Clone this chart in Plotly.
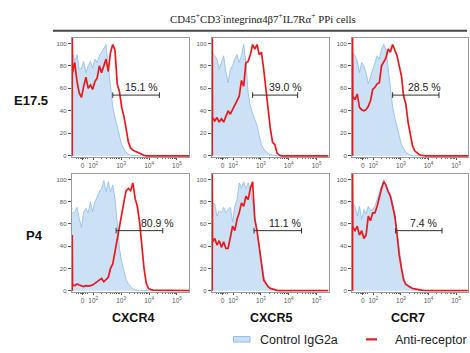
import numpy as np
import plotly.graph_objects as go

# ---------------- data ----------------
row_labels = ["E17.5", "P4"]
markers = ["CXCR4", "CXCR5", "CCR7"]
pct_labels = ["15.1 %", "39.0 %", "28.5 %", "80.9 %", "11.1 %", "7.4 %"]

# histogram bin centres in display (biexponential) units: 2 = 10^2, 3 = 10^3 ...
bins = [1.26, 1.34, 1.42, 1.50, 1.58, 1.66, 1.74, 1.82, 1.90, 1.98, 2.06, 2.14,
        2.22, 2.30, 2.38, 2.46, 2.54, 2.62, 2.70, 2.78, 2.86, 2.94, 3.02, 3.10,
        3.18, 3.26, 3.34, 3.42, 3.50, 3.58, 3.66, 3.74, 3.82, 3.90, 3.98, 4.06, 4.14]

e175_cxcr4_ctrl = [92, 84, 90, 77, 78, 84, 74, 80, 84, 78, 86, 83, 89, 92, 96, 99, 80, 62, 44, 34,
                   27, 18, 10, 6, 3, 1.5, 0.5, 0.3, 0, 0, 0, 0, 0, 0, 0, 0, 0]
e175_cxcr4_anti = [74, 83, 66, 56, 52, 62, 70, 60, 63, 59, 66, 69, 80, 74, 80, 86, 75, 92, 99, 94,
                   64, 57, 43, 35, 24, 12, 7, 5, 4, 3, 2, 1, 0.5, 0, 0, 0, 0]
e175_cxcr5_ctrl = [92, 89, 86, 77, 83, 89, 75, 65, 77, 80, 86, 90, 83, 89, 99, 83, 56, 44, 38, 33,
                   27, 18, 10, 6, 3.5, 2, 1, 0.5, 0, 0, 0, 0, 0, 0, 0, 0, 0]
e175_cxcr5_anti = [34, 31, 34, 30, 33, 30, 36, 40, 37, 41, 44, 49, 53, 67, 62, 83, 84, 90, 99, 95,
                   99, 90, 92, 77, 59, 41, 24, 12, 10, 2.4, 0.6, 0, 0, 0, 0, 0, 0]
e175_ccr7_ctrl = [92, 89, 84, 74, 83, 80, 74, 64, 71, 77, 83, 89, 86, 95, 99, 95, 78, 62, 44, 34,
                  27, 18, 10, 6, 3, 1.5, 0.5, 0, 0, 0, 0, 0, 0, 0, 0, 0, 0]
e175_ccr7_anti = [53, 50, 55, 43, 41, 40, 41, 44, 49, 59, 61, 64, 65, 80, 84, 87, 95, 92, 99, 93,
                  89, 80, 71, 53, 46, 30, 18, 9, 4.4, 2.4, 1.2, 0.5, 0, 0, 0, 0, 0]
p4_cxcr4_ctrl = [70, 71, 75, 65, 57, 71, 74, 70, 80, 71, 80, 84, 89, 92, 99, 89, 98, 89, 95, 83,
                 57, 38, 26, 17, 10, 6, 3.3, 1.5, 0.8, 0.3, 0, 0, 0, 0, 0, 0, 0]
p4_cxcr4_anti = [5, 4.5, 6, 5, 4.5, 3.6, 4.5, 4, 4.5, 5, 6.5, 8, 10, 11, 8, 10, 12, 20, 24, 35,
                 47, 57, 68, 80, 90, 92, 90, 97, 83, 76, 62, 41, 20, 6.5, 2, 1, 0.4]
p4_cxcr5_ctrl = [79, 78, 67, 72, 70, 75, 70, 73, 75, 62, 76, 82, 97, 92, 98, 92, 97, 92, 81, 67,
                 54, 41, 26, 14, 6.5, 3.6, 2, 1.2, 0.6, 0.3, 0, 0, 0, 0, 0, 0, 0]
p4_cxcr5_anti = [44, 47, 41, 45, 39, 44, 38, 38, 47, 58, 54, 64, 70, 79, 76, 85, 82, 92, 98, 64,
                 54, 41, 24, 9.5, 6.5, 3.6, 2, 1.2, 0.6, 0.3, 0, 0, 0, 0, 0, 0, 0]
p4_ccr7_ctrl = [79, 76, 67, 76, 64, 73, 69, 76, 72, 73, 76, 82, 89, 94, 100, 94, 89, 88, 79, 70,
                53, 35, 23, 12, 6.5, 4.5, 3, 2, 1.5, 1, 0.8, 0.5, 0.3, 0, 0, 0, 0]
p4_ccr7_anti = [57, 54, 58, 50, 54, 47, 50, 67, 63, 70, 70, 76, 85, 92, 98, 95, 89, 85, 76, 67,
                51, 32, 20, 9.5, 5.6, 4.2, 3, 2, 1.5, 1, 0.7, 0.4, 0.2, 0, 0, 0, 0]

# off-scale first bin (events piled at the lower edge) of the red histogram
anti_edge = [110, 110, 110, 50, 110, 110]

# gates (display units)
gate_lo = [2.70, 2.70, 2.70, 2.82, 2.75, 2.81]
gate_hi = [4.37, 4.32, 4.38, 4.49, 4.46, 4.49]

x_tick_vals = [1.62, 2, 3, 4, 5]
x_tick_text = ["0", "10<sup>2</sup>", "10<sup>3</sup>", "10<sup>4</sup>", "10<sup>5</sup>"]
y_tick_vals = [0, 20, 40, 60, 80, 100]

controls = [e175_cxcr4_ctrl, e175_cxcr5_ctrl, e175_ccr7_ctrl,
            p4_cxcr4_ctrl, p4_cxcr5_ctrl, p4_ccr7_ctrl]
antis = [e175_cxcr4_anti, e175_cxcr5_anti, e175_ccr7_anti,
         p4_cxcr4_anti, p4_cxcr5_anti, p4_ccr7_anti]

# ---------------- layout helpers ----------------
W, H = 470, 353
XMIN, XMAX = 1.23, 5.43
YMIN, YMAX = -1, 105
GATE_Y, LABEL_Y = 54, 61
LABEL_X = [3.73, 3.89, 3.87, 4.30, 3.86, 3.81]

col_px = [(71.7, 189.0), (211.7, 328.5), (352.0, 468.0)]
row_py = [(38.0, 157.8), (175.0, 293.4)]

def px(x):
    return x / W

def py(y):
    return 1 - y / H

BLUE_FILL = "#cce0f6"
BLUE_LINE = "#8dbbe8"
RED = "#e8191c"
FONT = "Liberation Sans"

minor_vals = [1.40, 1.47, 1.53, 1.58, 1.66, 1.72, 1.80]
for d in (2, 3, 4):
    minor_vals += [d + np.log10(k) for k in range(2, 10)]

fig = go.Figure()
layout = {}
annotations = []
shapes = []

for r in range(2):
    for c in range(3):
        k = r * 3 + c
        n = k + 1
        sfx = "" if n == 1 else str(n)
        xa, ya = "x" + sfx, "y" + sfx
        cv, av = controls[k], antis[k]

        fig.add_trace(go.Scatter(
            x=[XMIN] + bins + [XMAX], y=[cv[0]] + cv + [0],
            mode="lines", line=dict(color=BLUE_LINE, width=0.8),
            fill="tozeroy", fillcolor=BLUE_FILL,
            xaxis=xa, yaxis=ya, showlegend=False, hoverinfo="skip"))
        fig.add_trace(go.Scatter(
            x=[XMIN + 0.02, XMIN + 0.02] + bins + [XMAX], y=[0, anti_edge[k]] + av + [0],
            mode="lines", line=dict(color=RED, width=1.7),
            xaxis=xa, yaxis=ya, showlegend=False, hoverinfo="skip"))

        x0, x1 = col_px[c]
        y0, y1 = row_py[r]
        layout["xaxis" + sfx] = dict(
            domain=[px(x0), px(x1)], range=[XMIN, XMAX], anchor=ya,
            tickvals=x_tick_vals, ticktext=x_tick_text,
            tickfont=dict(family=FONT, size=6.5, color="#555"),
            ticks="outside", ticklen=2, tickcolor="#555", tickwidth=0.8,
            minor=dict(tickvals=minor_vals, ticks="outside", ticklen=1.5,
                       tickcolor="#666", tickwidth=0.6),
            showline=True, linecolor="#9a9a9a", linewidth=1, mirror=True,
            showgrid=False, zeroline=False, fixedrange=True)
        layout["yaxis" + sfx] = dict(
            domain=[py(y1), py(y0)], range=[YMIN, YMAX], anchor=xa,
            tickvals=y_tick_vals,
            tickfont=dict(family=FONT, size=6, color="#555"),
            ticks="outside", ticklen=3, tickcolor="#555", tickwidth=0.8,
            showline=True, linecolor="#9a9a9a", linewidth=1, mirror=True,
            showgrid=False, zeroline=False, fixedrange=True)

        # gate bar
        lo, hi = gate_lo[k], gate_hi[k]
        shapes.append(dict(type="line", xref=xa, yref=ya, x0=lo, x1=hi, y0=GATE_Y, y1=GATE_Y,
                           line=dict(color="#333", width=1)))
        for gx in (lo, hi):
            shapes.append(dict(type="line", xref=xa, yref=ya, x0=gx, x1=gx,
                               y0=GATE_Y - 2.5, y1=GATE_Y + 2.5, line=dict(color="#333", width=1)))
        annotations.append(dict(text=pct_labels[k], xref=xa, yref=ya, x=LABEL_X[k], y=LABEL_Y,
                                showarrow=False, font=dict(family=FONT, size=10.5, color="#222"),
                                xanchor="center", yanchor="middle"))

# title and rule
annotations.append(dict(
    text="CD45<sup>+</sup>CD3<sup>-</sup>integrinα4β7<sup>+</sup>IL7Rα<sup>+</sup> PPi cells",
    xref="paper", yref="paper", x=px(263), y=py(18.5), showarrow=False,
    font=dict(family="Liberation Serif", size=10.8, color="#222"),
    xanchor="center", yanchor="middle"))
shapes.append(dict(type="line", xref="paper", yref="paper", x0=px(53), x1=px(467),
                   y0=py(31), y1=py(31), line=dict(color="#444", width=2)))

# row labels
for label, (cx, cy) in zip(row_labels, [(31, 101.5), (34, 237)]):
    annotations.append(dict(text="<b>%s</b>" % label, xref="paper", yref="paper",
                            x=px(cx), y=py(cy), showarrow=False,
                            font=dict(family=FONT, size=13, color="#111"),
                            xanchor="center", yanchor="middle"))
# column labels
for label, cx in zip(markers, [133, 271, 408]):
    annotations.append(dict(text="<b>%s</b>" % label, xref="paper", yref="paper",
                            x=px(cx), y=py(320), showarrow=False,
                            font=dict(family=FONT, size=12.5, color="#111"),
                            xanchor="center", yanchor="middle"))

# legend (drawn manually)
shapes.append(dict(type="rect", xref="paper", yref="paper", x0=px(233.5), x1=px(250),
                   y0=py(344), y1=py(338.5), fillcolor=BLUE_FILL,
                   line=dict(color=BLUE_LINE, width=1)))
shapes.append(dict(type="line", xref="paper", yref="paper", x0=px(366), x1=px(377),
                   y0=py(341.3), y1=py(341.3), line=dict(color=RED, width=2.2)))
annotations.append(dict(text="Control IgG2a", xref="paper", yref="paper", x=px(257.5), y=py(341.7),
                        showarrow=False, font=dict(family=FONT, size=12.5, color="#222"),
                        xanchor="left", yanchor="middle"))
annotations.append(dict(text="Anti-receptor", xref="paper", yref="paper", x=px(392.5), y=py(341.7),
                        showarrow=False, font=dict(family=FONT, size=12.5, color="#222"),
                        xanchor="left", yanchor="middle"))

fig.update_layout(
    width=W, height=H, margin=dict(l=0, r=0, t=0, b=0),
    paper_bgcolor="white", plot_bgcolor="white",
    annotations=annotations, shapes=shapes, showlegend=False,
    **layout)

fig.write_html("out.html", config={"displayModeBar": False},
               post_script="document.body.style.margin='0';document.body.style.overflow='hidden';")
